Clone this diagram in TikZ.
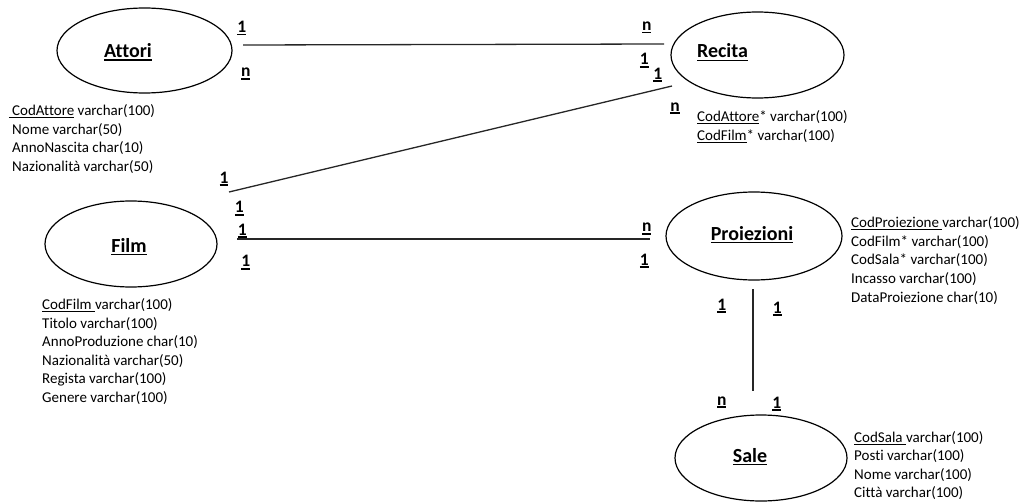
\documentclass[tikz,border=0pt]{standalone}
\usepackage{fontspec}
\setmainfont{Carlito}[Ligatures=NoCommon]
\usetikzlibrary{shapes.geometric}

% underline: #1 thickness, #2 depth below baseline, #3 text
\newcommand\undl[3]{\setbox0\hbox{#3}\leavevmode\rlap{\rule[-#2]{\wd0}{#1}}\box0\relax}
\newcommand\card[1]{\undl{1.4pt}{2.8pt}{#1}}
\newcommand\ttl[1]{\undl{1.5pt}{3.2pt}{#1}}
\newcommand\key[1]{\undl{0.7pt}{2.2pt}{#1}}

\begin{document}
\begin{tikzpicture}[x=1pt,y=-1pt,
  entity/.style={draw=black, ellipse, line width=1.2pt, inner sep=0pt},
  title/.style={font=\bfseries\fontsize{20}{20}\selectfont, inner sep=0pt, anchor=base, text=black},
  cardlabel/.style={font=\bfseries\fontsize{17.5}{17.5}\selectfont, inner sep=0pt, anchor=base, text=black},
  attr/.style={font=\fontsize{15}{18.5}\selectfont, inner sep=0pt, anchor=base west, text=black},
  link/.style={draw=black!85, line width=1.3pt}]
\useasboundingbox (0,0) rectangle (1025,503);

% entities
\node[entity, minimum width=175, minimum height=85] (attori) at (144.5,50.5) {};
\node[entity, minimum width=173, minimum height=86] (recita) at (757.5,55) {};
\node[entity, minimum width=172, minimum height=86] (film) at (131,244) {};
\node[entity, minimum width=176, minimum height=88] (proiezioni) at (754,236) {};
\node[entity, minimum width=172, minimum height=86] (sale) at (761,458) {};

% entity names
\node[title] (attoriT) at (128,57.5) {\ttl{Attori}};
\node[title] (recitaT) at (722.5,58) {\ttl{Recita}};
\node[title] (filmT) at (129,252) {\ttl{Film}};
\node[title] (proiezioniT) at (752,240) {\ttl{Proiezioni}};
\node[title] (saleT) at (750,462) {\ttl{Sale}};

% connector end points
\coordinate (ar1) at (243,45);
\coordinate (ar2) at (664,44);
\coordinate (fr1) at (229,192);
\coordinate (fr2) at (672,86);
\coordinate (fp1) at (237,239);
\coordinate (fp2) at (650,239);
\coordinate (ps1) at (753,289);
\coordinate (ps2) at (753,391);

\draw[link] (ar1) -- (ar2);
\draw[link] (fr1) -- (fr2);
\draw[link] (fp1) -- (fp2);
\draw[link] (ps1) -- (ps2);

% cardinalities
\node[cardlabel] (c1) at (241.7,32.7) {\card{1}};
\node[cardlabel] (c2) at (245.7,77) {\card{n}};
\node[cardlabel] (c3) at (646.7,30.5) {\card{n}};
\node[cardlabel] (c4) at (644.3,65) {\card{1}};
\node[cardlabel] (c5) at (657.7,79) {\card{1}};
\node[cardlabel] (c6) at (675,111) {\card{n}};
\node[cardlabel] (c7) at (224,183) {\card{1}};
\node[cardlabel] (c8) at (239.3,212.7) {\card{1}};
\node[cardlabel] (c9) at (242.3,235) {\card{1}};
\node[cardlabel] (c10) at (245.7,266.7) {\card{1}};
\node[cardlabel] (c11) at (646.7,231.7) {\card{n}};
\node[cardlabel] (c12) at (644.3,265) {\card{1}};
\node[cardlabel] (c13) at (721.7,310) {\card{1}};
\node[cardlabel] (c14) at (777.3,313) {\card{1}};
\node[cardlabel] (c15) at (721.7,405) {\card{n}};
\node[cardlabel] (c16) at (776.7,408) {\card{1}};

% attributes
\foreach \txt [count=\i from 0] in {
  {\kern-0.23em\key{\ CodAttore} varchar(100)},
  {Nome varchar(50)},
  {AnnoNascita char(10)},
  {Nazionalità varchar(50)}}
  \node[attr, name=attoriA\i] at (12,115.5+18.5*\i) {\txt};

\foreach \txt [count=\i from 0] in {
  {\key{CodAttore}* varchar(100)},
  {\key{CodFilm}* varchar(100)}}
  \node[attr, name=recitaA\i] at (697,121.5+18.8*\i) {\txt};

\foreach \txt [count=\i from 0] in {
  {\key{CodFilm\ }varchar(100)},
  {Titolo varchar(100)},
  {AnnoProduzione char(10)},
  {Nazionalità varchar(50)},
  {Regista varchar(100)},
  {Genere varchar(100)}}
  \node[attr, name=filmA\i] at (42,309.5+18.6*\i) {\txt};

\foreach \txt [count=\i from 0] in {
  {\key{CodProiezione\ }varchar(100)},
  {CodFilm* varchar(100)},
  {CodSala* varchar(100)},
  {Incasso varchar(100)},
  {DataProiezione char(10)}}
  \node[attr, name=proiezioniA\i] at (851,227.5+18.7*\i) {\txt};

\foreach \txt [count=\i from 0] in {
  {\key{CodSala\ }varchar(100)},
  {Posti varchar(100)},
  {Nome varchar(100)},
  {Città varchar(100)}}
  \node[attr, name=saleA\i] at (854,442+18.5*\i) {\txt};
\end{tikzpicture}
\end{document}
